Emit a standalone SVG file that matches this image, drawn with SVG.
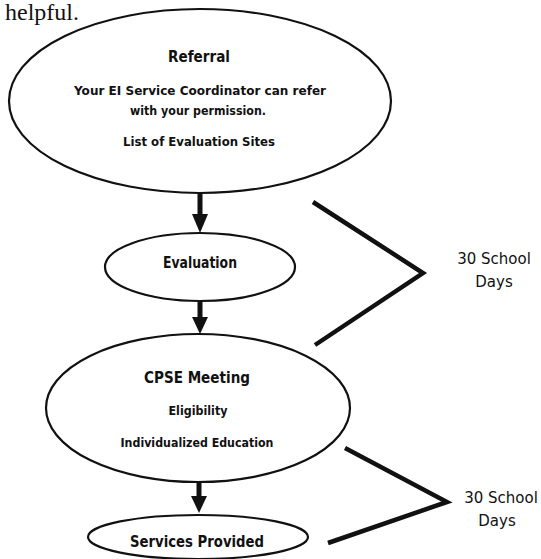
<svg xmlns="http://www.w3.org/2000/svg" width="541" height="559" viewBox="0 0 541 559">
<style>
.node{fill:#fff;stroke:#111;stroke-width:2.2}
.t{font-family:"DejaVu Sans","Liberation Sans",sans-serif;font-weight:bold;fill:#111;text-anchor:middle}
.r{font-family:"DejaVu Sans","Liberation Sans",sans-serif;fill:#111;text-anchor:middle;font-size:15px}
.shaft{stroke:#111;stroke-width:5;fill:none}
.head{fill:#111}
.br{stroke:#111;stroke-width:4.5;fill:none;stroke-linecap:butt;stroke-linejoin:miter}
</style>
<rect width="541" height="559" fill="#fff"/>
<text x="5" y="20" font-family="Liberation Serif,serif" font-size="24" fill="#111">helpful.</text>
<g id="referral">
<ellipse class="node" cx="200" cy="101" rx="191" ry="92"/>
<text class="t" x="199" y="62" font-size="15" textLength="62" lengthAdjust="spacingAndGlyphs">Referral</text>
<text class="t" x="200" y="95" font-size="13" textLength="252" lengthAdjust="spacingAndGlyphs">Your EI Service Coordinator can refer</text>
<text class="t" x="198" y="115" font-size="13" textLength="136" lengthAdjust="spacingAndGlyphs">with your permission.</text>
<text class="t" x="199" y="146" font-size="13" textLength="152" lengthAdjust="spacingAndGlyphs">List of Evaluation Sites</text>
</g>
<g id="evaluation">
<ellipse class="node" cx="200" cy="267" rx="95" ry="34"/>
<text class="t" x="200" y="268" font-size="15" textLength="74" lengthAdjust="spacingAndGlyphs">Evaluation</text>
</g>
<g id="cpse">
<ellipse class="node" cx="198" cy="408" rx="152" ry="74"/>
<text class="t" x="197" y="383" font-size="16" textLength="106" lengthAdjust="spacingAndGlyphs">CPSE Meeting</text>
<text class="t" x="198" y="415" font-size="13" textLength="59" lengthAdjust="spacingAndGlyphs">Eligibility</text>
<text class="t" x="197" y="447" font-size="13" textLength="153" lengthAdjust="spacingAndGlyphs">Individualized Education</text>
</g>
<g id="services">
<ellipse class="node" cx="198" cy="537" rx="110" ry="22"/>
<text class="t" x="197" y="547" font-size="15" textLength="134" lengthAdjust="spacingAndGlyphs">Services Provided</text>
</g>
<g id="connectors">
<line class="shaft" x1="200" y1="193" x2="200" y2="215"/>
<polygon class="head" points="192,214 208,214 200,233"/>
<line class="shaft" x1="200" y1="301" x2="200" y2="318"/>
<polygon class="head" points="192,317 208,317 200,334"/>
<line class="shaft" x1="199" y1="482" x2="199" y2="497"/>
<polygon class="head" points="191,496 207,496 199,513"/>
</g>
<g id="brackets">
<polyline class="br" points="313,202 423,273 315,345"/>
<polyline class="br" points="345,448 447,502 328,543"/>
<text class="r" x="494" y="264">30 School</text>
<text class="r" x="494" y="287">Days</text>
<text class="r" x="501" y="503">30 School</text>
<text class="r" x="497" y="526">Days</text>
</g>
</svg>
